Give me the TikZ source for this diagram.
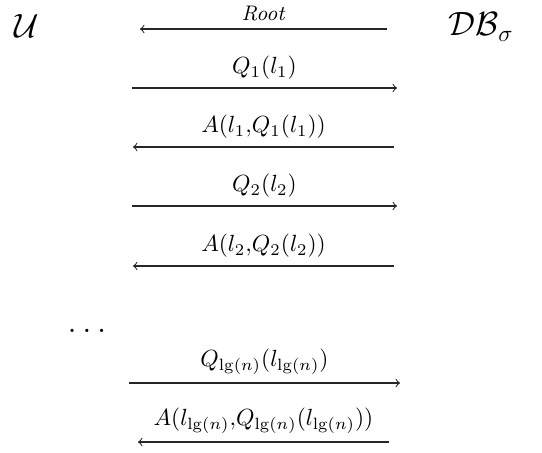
\documentclass[tikz,border=0pt]{standalone}
\begin{document}
\begin{tikzpicture}[x=0.4274pt,y=-0.4274pt,
  msg/.style={-to, line width=0.45pt, draw=black!85},
  lbl/.style={above=3.4pt, inner sep=0pt, midway},
  party/.style={font=\Large, inner sep=0pt}]
\useasboundingbox (0,0) rectangle (542,452);
% parties
\node[party] (U) at (27,26) {$\mathcal{U}$};
\node[party] (DB) at (481,27) {$\mathcal{DB}_\sigma$};
% endpoints
\coordinate (r0a) at (387,29);  \coordinate (r0b) at (140,29);
\coordinate (q1a) at (132,88);  \coordinate (q1b) at (397,88);
\coordinate (a1a) at (394,147); \coordinate (a1b) at (133,147);
\coordinate (q2a) at (132,206); \coordinate (q2b) at (397,206);
\coordinate (a2a) at (394,266); \coordinate (a2b) at (133,266);
\coordinate (qna) at (129,383); \coordinate (qnb) at (400,383);
\coordinate (ana) at (389,442); \coordinate (anb) at (138,442);
% messages
\draw[msg] (r0a) -- node[lbl] (t0) {\small\textit{Root}} (r0b);
\draw[msg] (q1a) -- node[lbl] (t1) {$Q_1(l_1)$} (q1b);
\draw[msg] (a1a) -- node[lbl] (t2) {$A(l_1{,}Q_1(l_1))$} (a1b);
\draw[msg] (q2a) -- node[lbl] (t3) {$Q_2(l_2)$} (q2b);
\draw[msg] (a2a) -- node[lbl] (t4) {$A(l_2{,}Q_2(l_2))$} (a2b);
\node[party] (dots) at (87,331) {$\ldots$};
\draw[msg] (qna) -- node[lbl] (t5) {$Q_{\lg(n)}(l_{\lg(n)})$} (qnb);
\draw[msg] (ana) -- node[lbl] (t6) {$A(l_{\lg(n)}{,}Q_{\lg(n)}(l_{\lg(n)}))$} (anb);
\end{tikzpicture}
\end{document}
